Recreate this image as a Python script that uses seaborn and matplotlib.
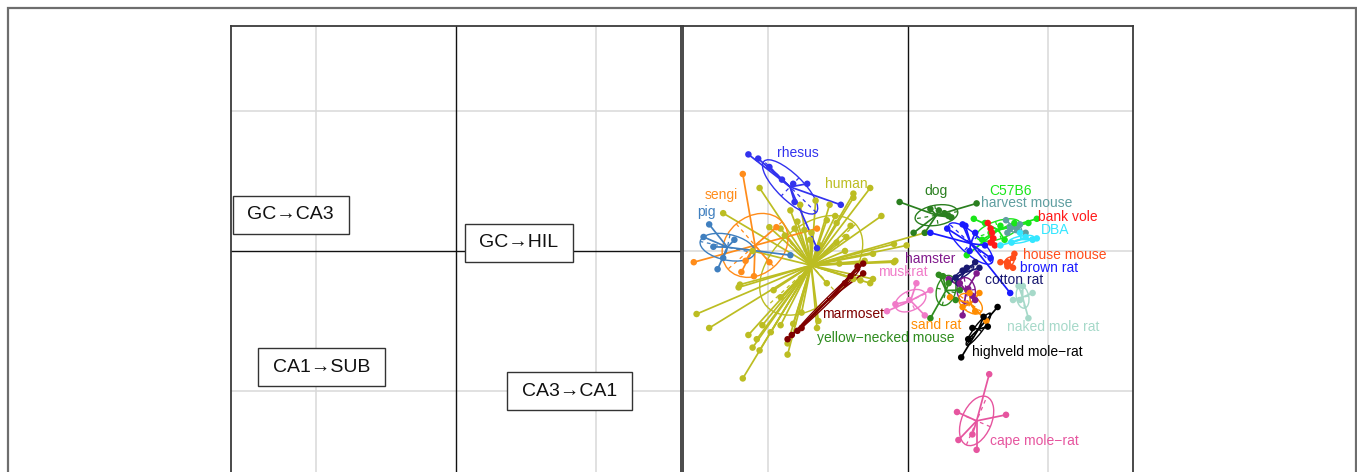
import numpy as np
import pandas as pd
import matplotlib
matplotlib.use("Agg")
import matplotlib.pyplot as plt
from matplotlib.patches import Ellipse, Rectangle
import seaborn as sns

# ---------------------------------------------------------------- data
# Loadings of the projection variables (left panel)
var_names = ["GC→CA3", "GC→HIL", "CA1→SUB", "CA3→CA1"]
var_x = [-1.18, 0.45, -0.96, 0.81]
var_y = [0.26, 0.06, -0.83, -1.00]

# Individual scores per species (right panel)
human_x = [-1.06, -1.32, -0.99, -0.91, -0.81, -0.79, -0.74, -0.58, -0.52, -0.51,
           -0.39, -0.39, -0.27, -0.19, -0.44, -0.31, -0.25, -0.39, -0.51, -1.20,
           -1.21, -1.51, -1.42, -1.14, -1.08, -1.11, -1.06, -0.98, -0.91, -0.82,
           -0.76, -0.64, -0.65, -0.86, -0.86, -0.91, -0.96, -1.18, -0.25, -0.09,
           -0.27, -0.34, -0.58, -0.49, -1.04, -0.10, 0.12, -0.01, -0.10, -0.70,
           -0.88, -0.63, -1.11, -0.45, -0.66, -0.77, -0.56, -0.84, -0.41, -0.69]
human_y = [0.45, 0.27, 0.17, 0.16, 0.16, 0.21, 0.15, 0.22, 0.25, 0.20,
           0.41, 0.38, 0.45, 0.25, 0.10, -0.07, -0.20, -0.20, 0.06, -0.24,
           -0.26, -0.45, -0.55, -0.60, -0.63, -0.69, -0.71, -0.58, -0.53, -0.52,
           -0.44, -0.50, -0.55, -0.66, -0.74, -0.33, -0.28, -0.91, -0.02, -0.07,
           -0.23, -0.21, -0.23, -0.09, -0.53, 0.05, 0.13, 0.04, -0.08, 0.08,
           0.11, 0.04, 0.00, 0.00, 0.36, 0.33, 0.33, 0.29, 0.18, 0.13]
rhesus_x = [-1.14, -1.07, -0.99, -0.90, -0.82, -0.72, -0.81, -0.48, -0.65]
rhesus_y = [0.69, 0.66, 0.60, 0.51, 0.48, 0.48, 0.35, 0.33, 0.02]
sengi_x = [-1.18, -1.53, -1.19, -1.10, -1.16, -0.94, -0.65, -0.99]
sengi_y = [0.55, -0.08, -0.15, -0.18, -0.07, 0.17, 0.16, -0.08]
pig_x = [-1.42, -1.46, -1.36, -1.32, -0.84, -1.39, -1.24]
pig_y = [0.19, 0.10, -0.13, -0.05, -0.03, 0.03, 0.08]
marmoset_x = [-0.32, -0.32, -0.36, -0.41, -0.45, -0.86, -0.83, -0.79, -0.76]
marmoset_y = [-0.09, -0.16, -0.11, -0.18, -0.23, -0.63, -0.60, -0.57, -0.55]
dog_x = [-0.06, 0.16, 0.22, 0.29, 0.31, 0.49, 0.04, 0.12, 0.26]
dog_y = [0.35, 0.30, 0.29, 0.25, 0.24, 0.34, 0.13, 0.13, 0.27]
c57b6_x = [0.47, 0.55, 0.66, 0.76, 0.86, 0.92, 0.42, 0.53, 0.59, 0.69]
c57b6_y = [0.23, 0.20, 0.18, 0.20, 0.20, 0.23, -0.03, 0.08, 0.13, 0.08]
harvest_x = [0.70, 0.73, 0.78, 0.84, 0.71, 0.80]
harvest_y = [0.22, 0.16, 0.15, 0.13, 0.13, 0.19]
bankvole_x = [0.57, 0.59, 0.60, 0.61, 0.62, 0.59]
bankvole_y = [0.20, 0.16, 0.13, 0.09, 0.04, 0.06]
dba_x = [0.92, 0.89, 0.84, 0.74, 0.80, 0.66]
dba_y = [0.09, 0.08, 0.10, 0.06, 0.13, 0.04]
housemouse_x = [0.76, 0.75, 0.71, 0.71, 0.75, 0.66]
housemouse_y = [-0.02, -0.05, -0.08, -0.11, -0.12, -0.08]
brownrat_x = [0.16, 0.28, 0.39, 0.41, 0.48, 0.55, 0.73, 0.59, 0.44]
brownrat_y = [0.13, 0.16, 0.19, 0.18, 0.13, 0.04, -0.30, -0.05, 0.00]
cottonrat_x = [0.30, 0.34, 0.39, 0.42, 0.48, 0.51, 0.36]
cottonrat_y = [-0.21, -0.19, -0.14, -0.12, -0.08, -0.12, -0.23]
hamster_x = [0.29, 0.39, 0.46, 0.49, 0.43, 0.48, 0.37]
hamster_y = [-0.20, -0.46, -0.32, -0.16, -0.27, -0.35, -0.23]
muskrat_x = [-0.15, -0.09, 0.06, 0.12, 0.16, 0.01]
muskrat_y = [-0.43, -0.38, -0.23, -0.46, -0.28, -0.35]
yellowneck_x = [0.22, 0.25, 0.16, 0.37, 0.34, 0.29]
yellowneck_y = [-0.17, -0.18, -0.48, -0.28, -0.35, -0.23]
sandrat_x = [0.30, 0.44, 0.51, 0.56, 0.39, 0.48]
sandrat_y = [-0.33, -0.30, -0.30, -0.50, -0.40, -0.43]
nakedmole_x = [0.75, 0.79, 0.82, 0.89, 0.86, 0.80]
nakedmole_y = [-0.35, -0.25, -0.25, -0.30, -0.48, -0.35]
highveld_x = [0.64, 0.54, 0.57, 0.46, 0.43, 0.38]
highveld_y = [-0.40, -0.47, -0.54, -0.55, -0.63, -0.76]
capemole_x = [0.58, 0.35, 0.70, 0.36, 0.46, 0.49]
capemole_y = [-0.88, -1.15, -1.17, -1.35, -1.31, -1.42]

species = ["human", "rhesus", "sengi", "pig", "marmoset", "dog", "C57B6",
           "harvest mouse", "bank vole", "DBA", "house mouse", "brown rat",
           "cotton rat", "hamster", "muskrat", "yellow−necked mouse", "sand rat",
           "naked mole rat", "highveld mole−rat", "cape mole−rat"]
scores_x = [human_x, rhesus_x, sengi_x, pig_x, marmoset_x, dog_x, c57b6_x,
            harvest_x, bankvole_x, dba_x, housemouse_x, brownrat_x, cottonrat_x,
            hamster_x, muskrat_x, yellowneck_x, sandrat_x, nakedmole_x,
            highveld_x, capemole_x]
scores_y = [human_y, rhesus_y, sengi_y, pig_y, marmoset_y, dog_y, c57b6_y,
            harvest_y, bankvole_y, dba_y, housemouse_y, brownrat_y, cottonrat_y,
            hamster_y, muskrat_y, yellowneck_y, sandrat_y, nakedmole_y,
            highveld_y, capemole_y]

colors = ["#bcbd22", "#3232ee", "#ff8c1a", "#3f7fbf", "#7f0000", "#2a7f1f",
          "#19e619", "#5f9ea0", "#ff1a1a", "#33e6ff", "#ff4d1a", "#1a1aff",
          "#191970", "#80198c", "#f07ac8", "#2e8b1e", "#ff8c00", "#a6d9c9",
          "#000000", "#e6559f"]

# where each class name is written
label_pos = {
    "human": (-0.44, 0.48), "rhesus": (-0.79, 0.70), "sengi": (-1.33, 0.40),
    "pig": (-1.44, 0.28), "marmoset": (-0.39, -0.45), "dog": (0.20, 0.43),
    "C57B6": (0.73, 0.43), "harvest mouse": (0.85, 0.34),
    "bank vole": (1.14, 0.24), "DBA": (1.05, 0.15), "house mouse": (1.12, -0.03),
    "brown rat": (1.01, -0.12), "cotton rat": (0.76, -0.21),
    "hamster": (0.16, -0.06), "muskrat": (-0.04, -0.15),
    "yellow−necked mouse": (-0.16, -0.62), "sand rat": (0.20, -0.53),
    "naked mole rat": (1.04, -0.54), "highveld mole−rat": (0.85, -0.72),
    "cape mole−rat": (0.90, -1.36),
}

df = pd.concat(
    [pd.DataFrame({"x": sx, "y": sy, "species": sp})
     for sp, sx, sy in zip(species, scores_x, scores_y)],
    ignore_index=True)
palette = dict(zip(species, colors))

# ---------------------------------------------------------------- figure
sns.set_theme(style="white")
plt.rcParams["font.family"] = ["Liberation Sans", "DejaVu Sans"]

W, H = 1357, 472
fig = plt.figure(figsize=(W / 100, H / 100), dpi=100)
fig.patch.set_facecolor("white")

LIM = 1.607
GRID = "#d9d9d9"
FRAME = "#3a3a3a"


def panel(left_px):
    ax = fig.add_axes([left_px / W, (H - 476) / H, 450 / W, 450 / H])
    ax.set_xlim(-LIM, LIM)
    ax.set_ylim(-LIM, LIM)
    ax.set_aspect("equal")
    ax.set_xticks([])
    ax.set_yticks([])
    ax.set_xlabel("")
    ax.set_ylabel("")
    for s in ax.spines.values():
        s.set_color(FRAME)
        s.set_linewidth(1.3)
    for g in (-1, 1):
        ax.axvline(g, color=GRID, lw=1.1, zorder=0)
        ax.axhline(g, color=GRID, lw=1.1, zorder=0)
    return ax


# left panel: variable loadings in boxes
axl = panel(231)
axl.axvline(0, color="#111111", lw=1.0, zorder=1)
axl.axhline(0, color="#111111", lw=1.0, zorder=1)
for name, vx, vy in zip(var_names, var_x, var_y):
    axl.text(vx, vy, name, ha="center", va="center", fontsize=14, color="#111111",
             zorder=5,
             bbox=dict(boxstyle="square,pad=0.75", mutation_aspect=0.72,
                       fc="white", ec="#333333", lw=1.0))

# right panel: species scores with stars and ellipses
axr = panel(683)
axr.axhline(0, color=GRID, lw=1.1, zorder=0)
axr.axvline(0, color="#111111", lw=1.0, zorder=1)

K = 1.0
for sp, sx, sy, col in zip(species, scores_x, scores_y, colors):
    x = np.asarray(sx, float)
    y = np.asarray(sy, float)
    mx, my = x.mean(), y.mean()
    for xi, yi in zip(x, y):
        axr.plot([mx, xi], [my, yi], color=col, lw=1.25, zorder=2,
                 solid_capstyle="butt")
    cov = np.cov(x, y, bias=True)
    vals, vecs = np.linalg.eigh(cov)
    order = vals.argsort()[::-1]
    vals, vecs = vals[order], vecs[:, order]
    r = K * np.sqrt(np.clip(vals, 0, None))
    ang = np.degrees(np.arctan2(vecs[1, 0], vecs[0, 0]))
    axr.add_patch(Ellipse((mx, my), 2 * r[0], 2 * r[1], angle=ang, fill=False,
                          ec=col, lw=1.0, zorder=2))
    for i in range(2):
        v = vecs[:, i] * r[i]
        axr.plot([mx - v[0], mx + v[0]], [my - v[1], my + v[1]], color=col,
                 lw=0.9, ls=(0, (3, 3)), zorder=2)

sns.scatterplot(data=df, x="x", y="y", hue="species", palette=palette,
                s=22, linewidth=0, legend=False, ax=axr, zorder=3)
axr.set_xlabel("")
axr.set_ylabel("")

for sp, col in zip(species, colors):
    lx, ly = label_pos[sp]
    axr.text(lx, ly, sp, ha="center", va="center", fontsize=10, color=col,
             zorder=6)

# outer frame of the figure
fig.add_artist(Rectangle((8 / W, -0.05), (1356 - 8) / W, (H - 8) / H + 0.05,
                         transform=fig.transFigure, fill=False, ec="#6e6e6e",
                         lw=1.6, zorder=10))

fig.savefig("out.png", dpi=100, facecolor="white")
